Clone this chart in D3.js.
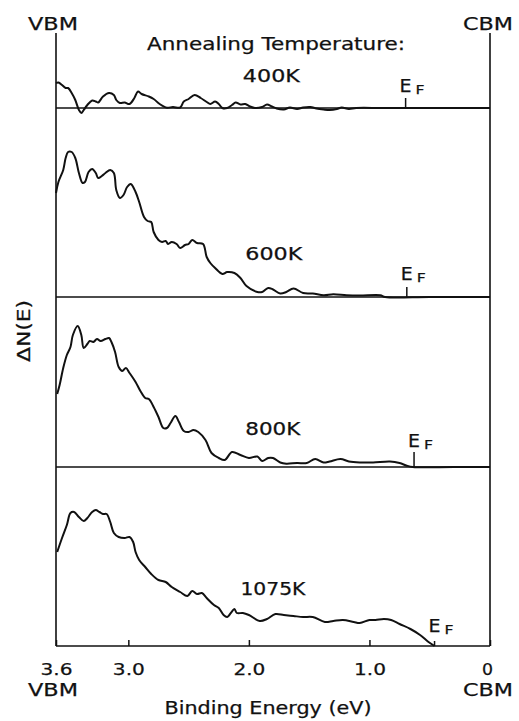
<!DOCTYPE html>
<html>
<head>
<meta charset="utf-8">
<script src="https://cdn.jsdelivr.net/npm/d3@7"></script>
<style>
  body { margin: 0; background: #fff; }
  svg text { font-family: "DejaVu Sans", "Liberation Sans", Arial, sans-serif; fill: #111; stroke: #111; stroke-width: 0.25px; }
</style>
</head>
<body>
<div id="chart"></div>
<script>
// annealing temperatures, one panel each
const temperatures = ["400K", "600K", "800K", "1075K"];
// Fermi level position (eV) for each anneal
const fermiLevels = [0.70, 0.69, 0.63, 0.46];
// bottom axis
const tickValues = [3.6, 3.0, 2.0, 1.0, 0];
const tickLabels = ["3.6", "3.0", "2.0", "1.0", "0"];

// [binding energy (eV), dN(E) arb. units]
const series400K = [
  [3.60,25],[3.58,25.5],[3.55,23],[3.52,20],[3.50,20],[3.47,15],[3.44,8],[3.41,-2],[3.39,-5],[3.37,-2],
  [3.34,3],[3.30,7.5],[3.27,6.5],[3.25,5.5],[3.21,11.5],[3.16,15],[3.12,13],[3.10,8],[3.07,5],[3.03,5.5],
  [2.99,4],[2.95,10],[2.92,16.5],[2.89,14],[2.83,11.5],[2.79,9],[2.74,4],[2.68,0.3],[2.63,1],[2.57,0.5],
  [2.54,6.5],[2.50,9],[2.45,13],[2.40,10],[2.35,6],[2.32,4],[2.28,6.5],[2.25,4],[2.22,0],[2.18,0],
  [2.14,3],[2.11,5.5],[2.07,3.5],[2.03,4],[1.99,1.5],[1.95,0],[1.89,1],[1.85,3.5],[1.81,1.5],[1.77,-0.5],
  [1.71,-1.5],[1.66,0.5],[1.60,-1],[1.55,0.5],[1.49,1],[1.44,-0.5],[1.38,-1.5],[1.33,-2],[1.27,-1],[1.23,0.5],
  [1.17,-1],[1.11,0],[0.90,0],[0.60,0],[0.30,0],[0,0]
];
const series600K = [
  [3.60,104],[3.58,115],[3.54,127],[3.52,139],[3.50,145],[3.47,145],[3.44,139],[3.41,124],[3.38,114],[3.36,115],
  [3.33,125],[3.30,128],[3.27,124],[3.25,119],[3.22,121],[3.19,124],[3.15,127],[3.12,124],[3.10,107],[3.07,99],
  [3.04,102],[3.01,110],[2.98,113],[2.94,105],[2.91,95],[2.87,80],[2.84,76],[2.81,75],[2.79,65],[2.75,57],
  [2.72,55],[2.69,56],[2.67,53],[2.64,55],[2.60,53],[2.57,49],[2.53,52],[2.50,53],[2.47,57],[2.43,54],
  [2.38,53],[2.35,40],[2.32,34],[2.28,29],[2.22,23],[2.18,25],[2.12,24],[2.07,19],[2.02,11],[1.93,5],
  [1.89,5],[1.84,9],[1.80,7.5],[1.74,3.5],[1.69,5],[1.63,8.5],[1.55,4],[1.47,3.5],[1.38,1.7],[1.30,2.7],
  [1.19,1.7],[1.08,1.4],[0.91,1.7],[0.87,0],[0.50,0],[0,0]
];
const series800K = [
  [3.59,73],[3.57,82],[3.54,99],[3.51,112],[3.48,120],[3.46,132],[3.42,141],[3.39,132],[3.37,119],[3.34,123],
  [3.32,126],[3.29,125],[3.26,128],[3.23,126],[3.19,128],[3.16,129],[3.14,125],[3.11,115],[3.08,100],[3.05,96],
  [3.02,99],[2.99,94],[2.94,85],[2.90,76],[2.86,69],[2.83,68],[2.79,60],[2.75,50],[2.71,39],[2.68,39],
  [2.65,44],[2.61,51],[2.58,45],[2.54,36],[2.50,35],[2.46,37],[2.42,35],[2.36,27],[2.31,14],[2.25,9],
  [2.20,7],[2.14,15],[2.07,12],[2.00,9],[1.93,10.5],[1.89,6],[1.84,9],[1.80,9],[1.74,4.5],[1.69,3.3],
  [1.60,4],[1.52,4],[1.45,8],[1.38,4.5],[1.33,5.5],[1.24,8],[1.17,5.5],[1.08,4.5],[0.97,4.5],[0.83,5.5],
  [0.75,4],[0.69,1.3],[0.64,0],[0.30,0],[0,0]
];
const series1075K = [
  [3.59,94],[3.55,108],[3.51,121],[3.48,133],[3.45,134],[3.41,129],[3.37,125],[3.34,128],[3.30,134],[3.27,136],
  [3.24,134],[3.21,132],[3.18,132],[3.15,124],[3.12,113],[3.08,109],[3.03,108],[2.99,109],[2.96,104],[2.94,94],
  [2.91,86],[2.86,79],[2.81,72],[2.75,66],[2.69,64],[2.64,59],[2.57,54],[2.51,50],[2.47,55],[2.43,52],
  [2.39,53],[2.35,48],[2.29,41],[2.25,38],[2.21,31],[2.18,29],[2.15,33],[2.12,37],[2.10,33],[2.05,33],
  [2.00,31],[1.91,25],[1.85,27],[1.78,32],[1.71,31],[1.63,30],[1.55,29],[1.47,29],[1.37,24],[1.30,25],
  [1.22,26],[1.13,24],[1.08,23],[1.00,26],[0.95,26],[0.88,27],[0.82,26],[0.75,22],[0.66,17],[0.58,11],
  [0.51,4],[0.46,0]
];
const allSeries = [series400K, series600K, series800K, series1075K];

// layout of the four stacked panels
const width = 519, height = 721;
const frameTop = 33;
const panelBase = [108, 297, 467, 646];
const labelPos = [[2.05, 82, 57], [2.03, 260, 57], [2.03, 435, 55], [2.07, 595, 65]]; // [E, y, textLength]
const efTickLen = [10, 10, 15, 5];
const efTextY = [92, 280, 447, 632];
const fit = "spacingAndGlyphs";

const svg = d3.select("#chart")
  .append("svg")
  .attr("width", width)
  .attr("height", height)
  .style("background", "#fff");

const xScale = d3.scaleLinear().domain([3.6, 0]).range([56, 490]);
const x0 = xScale(3.6), x1 = xScale(0);
const bottom = panelBase[3];

// frame: the two band-edge verticals and the baselines
svg.append("line").attr("x1", x0).attr("x2", x0).attr("y1", frameTop).attr("y2", bottom)
  .attr("stroke", "#111").attr("stroke-width", 1.6);
svg.append("line").attr("x1", x1).attr("x2", x1).attr("y1", frameTop).attr("y2", bottom)
  .attr("stroke", "#111").attr("stroke-width", 1.6);

const line = d3.line().curve(d3.curveCatmullRom.alpha(0.5));

allSeries.forEach((series, i) => {
  const base = panelBase[i];
  const yScale = d3.scaleLinear().domain([0, 100]).range([base, base - 100]);
  svg.append("line")
     .attr("x1", x0).attr("x2", x1).attr("y1", base).attr("y2", base)
     .attr("stroke", "#111").attr("stroke-width", 1.6);
  svg.append("path")
     .datum(series)
     .attr("fill", "none")
     .attr("stroke", "#111")
     .attr("stroke-width", 2)
     .attr("stroke-linejoin", "round")
     .attr("d", line.x(d => xScale(d[0])).y(d => yScale(d[1])));
  // temperature label
  const [le, ly, lw] = labelPos[i];
  svg.append("text")
     .attr("x", xScale(le)).attr("y", ly)
     .attr("font-size", 17)
     .attr("textLength", lw).attr("lengthAdjust", fit)
     .text(temperatures[i]);
  // Fermi level marker
  const ex = xScale(fermiLevels[i]);
  svg.append("line")
     .attr("x1", ex).attr("x2", ex).attr("y1", base).attr("y2", base - efTickLen[i])
     .attr("stroke", "#111").attr("stroke-width", 1.5);
  svg.append("text").attr("x", ex - 6).attr("y", efTextY[i]).attr("font-size", 17)
     .attr("textLength", 12).attr("lengthAdjust", fit).text("E");
  svg.append("text").attr("x", ex + 10).attr("y", efTextY[i] + 2).attr("font-size", 13)
     .attr("textLength", 9).attr("lengthAdjust", fit).text("F");
});

// bottom axis
const xAxis = d3.axisBottom(xScale)
  .tickValues(tickValues)
  .tickSize(-6)
  .tickPadding(18)
  .tickFormat((d, i) => tickLabels[i]);
const drawX = svg.append("g")
  .attr("transform", `translate(0, ${bottom})`)
  .call(xAxis);
drawX.select(".domain").remove();
drawX.selectAll(".tick line").attr("stroke", "#111").attr("stroke-width", 1.5);
drawX.selectAll(".tick text")
  .attr("font-size", 16)
  .attr("font-family", null)
  .attr("fill", "#111")
  .attr("textLength", d => d === 0 ? 11 : 32)
  .attr("lengthAdjust", fit)
  .attr("dx", d => d === 0 ? -3 : 0);

// band-edge labels
[[x0 - 3, 30, "VBM"], [x1 - 2, 30, "CBM"], [x0 - 3, 696, "VBM"], [x1 - 2, 696, "CBM"]].forEach(([tx, ty, t]) => {
  svg.append("text").attr("x", tx).attr("y", ty)
     .attr("text-anchor", "middle").attr("font-size", 17)
     .attr("textLength", 50).attr("lengthAdjust", fit)
     .text(t);
});

svg.append("text")
   .attr("x", 276).attr("y", 50)
   .attr("text-anchor", "middle").attr("font-size", 17)
   .attr("textLength", 258).attr("lengthAdjust", fit)
   .text("Annealing Temperature:");

svg.append("text")
   .attr("x", 268).attr("y", 714)
   .attr("text-anchor", "middle").attr("font-size", 17)
   .attr("textLength", 207).attr("lengthAdjust", fit)
   .text("Binding Energy (eV)");

svg.append("text")
   .attr("transform", "translate(30, 331) rotate(-90)")
   .attr("text-anchor", "middle").attr("font-size", 17)
   .attr("textLength", 62).attr("lengthAdjust", fit)
   .text("ΔN(E)");
</script>
</body>
</html>
